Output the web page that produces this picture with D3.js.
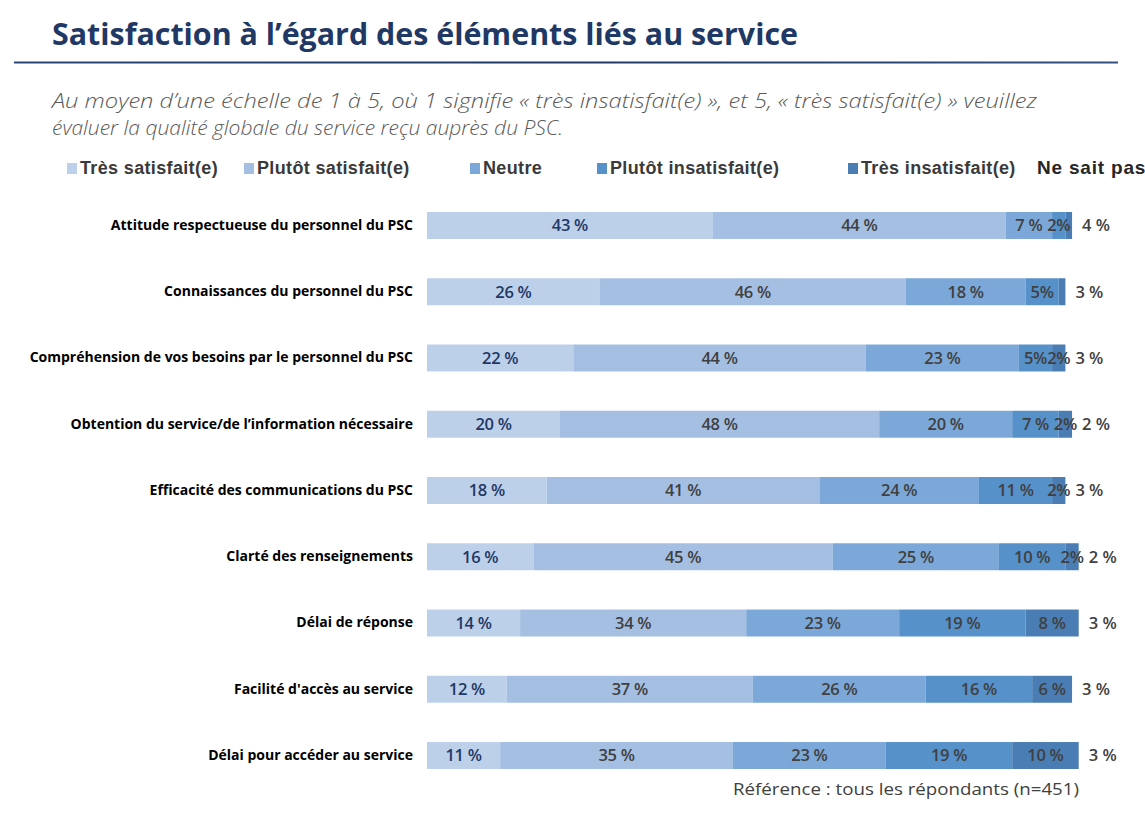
<!DOCTYPE html>
<html>
<head>
<meta charset="utf-8">
<script src="https://cdn.jsdelivr.net/npm/d3@7"></script>
<style>
  html, body { margin: 0; padding: 0; background: #ffffff; }
  svg { display: block; }
</style>
</head>
<body>
<svg id="chart" width="1145" height="826"></svg>
<script>
// ---------- DATA ----------
const categories = [
  "Attitude respectueuse du personnel du PSC",
  "Connaissances du personnel du PSC",
  "Compréhension de vos besoins par le personnel du PSC",
  "Obtention du service/de l\u2019information nécessaire",
  "Efficacité des communications du PSC",
  "Clarté des renseignements",
  "Délai de réponse",
  "Facilité d'accès au service",
  "Délai pour accéder au service"
];
const seriesNames = ["Très satisfait(e)", "Plutôt satisfait(e)", "Neutre", "Plutôt insatisfait(e)", "Très insatisfait(e)"];
const nspName = "Ne sait pas";

const tresSatisfait     = [43, 26, 22, 20, 18, 16, 14, 12, 11];
const plutotSatisfait   = [44, 46, 44, 48, 41, 45, 34, 37, 35];
const neutre            = [ 7, 18, 23, 20, 24, 25, 23, 26, 23];
const plutotInsatisfait = [ 2,  5,  5,  7, 11, 10, 19, 16, 19];
const tresInsatisfait   = [ 1,  1,  2,  2,  2,  2,  8,  6, 10];
const neSaitPas         = [ 4,  3,  3,  2,  3,  2,  3,  3,  3];

const title = "Satisfaction à l\u2019égard des éléments liés au service";
const subtitle1 = "Au moyen d\u2019une échelle de 1 à 5, où 1 signifie « très insatisfait(e) », et 5, « très satisfait(e) » veuillez";
const subtitle2 = "évaluer la qualité globale du service reçu auprès du PSC.";
const footnote = "Référence : tous les répondants (n=451)";

// ---------- STYLE / LAYOUT ----------
const colors = ["#bdd0ea", "#a4bfe2", "#7ba8d8", "#5691ca", "#4a7db3"];
const labelColors = ["#1f3864", "#404040", "#404040", "#404040", "#404040"];
const legendX = [67, 244, 470, 597, 848];
const nspLegendX = 1037;

const svg = d3.select("#chart");

// Title
svg.append("text")
  .attr("x", 52).attr("y", 45)
  .attr("font-family", "Open Sans, sans-serif")
  .attr("font-weight", 700)
  .attr("font-size", 31)
  .attr("fill", "#1f3864")
  .attr("textLength", 746)
  .attr("lengthAdjust", "spacingAndGlyphs")
  .text(title);

// Title rule
const defs = svg.append("defs");
const grad = defs.append("linearGradient").attr("id", "rule").attr("x1", "0%").attr("x2", "100%");
grad.append("stop").attr("offset", "0%").attr("stop-color", "#2a4677");
grad.append("stop").attr("offset", "50%").attr("stop-color", "#1f3864");
grad.append("stop").attr("offset", "100%").attr("stop-color", "#34507f");
svg.append("rect").attr("x", 14).attr("y", 61.5).attr("width", 1104).attr("height", 2)
  .attr("fill", "url(#rule)");

// Subtitle
[[subtitle1, 108, 985], [subtitle2, 135, 511]].forEach(([t, y, w]) => {
  svg.append("text")
    .attr("x", 52).attr("y", y)
    .attr("font-family", "Open Sans, sans-serif")
    .attr("font-style", "italic")
    .attr("font-weight", 300)
    .attr("font-size", 21)
    .attr("fill", "#595959")
    .attr("textLength", w)
    .attr("lengthAdjust", "spacingAndGlyphs")
    .text(t);
});

// Legend
const legend = svg.append("g").attr("class", "legend");
seriesNames.forEach((name, i) => {
  legend.append("rect")
    .attr("x", legendX[i]).attr("y", 163)
    .attr("width", 10).attr("height", 11)
    .attr("fill", colors[i]);
  legend.append("text")
    .attr("x", legendX[i] + 13).attr("y", 174)
    .attr("font-family", "Liberation Sans, Arial, sans-serif")
    .attr("font-weight", 700)
    .attr("font-size", 18)
    .attr("letter-spacing", 0.35)
    .attr("fill", "#3a3a3a")
    .text(name);
});
legend.append("text")
  .attr("x", nspLegendX).attr("y", 174)
  .attr("font-family", "Liberation Sans, Arial, sans-serif")
  .attr("font-weight", 700)
  .attr("font-size", 19)
  .attr("letter-spacing", 0.8)
  .attr("fill", "#262626")
  .text(nspName);

// Scales
const x = d3.scaleLinear().domain([0, 100]).range([427, 1092]);
const y = d3.scaleBand().domain(categories).range([212, 769]).paddingInner(0.593).paddingOuter(0);

const seriesArrays = [tresSatisfait, plutotSatisfait, neutre, plutotInsatisfait, tresInsatisfait];
const rows = categories.map((c, i) => {
  const o = { cat: c, nsp: neSaitPas[i] };
  seriesNames.forEach((s, j) => { o[s] = seriesArrays[j][i]; });
  return o;
});
const stacked = d3.stack().keys(seriesNames)(rows);

// Bars
const barG = svg.append("g");
stacked.forEach((layer, j) => {
  barG.selectAll(null).data(layer).enter().append("rect")
    .attr("x", d => x(d[0]))
    .attr("y", d => y(d.data.cat))
    .attr("width", d => x(d[1]) - x(d[0]))
    .attr("height", y.bandwidth())
    .attr("fill", colors[j]);
});

// Segment labels
function fmt(v) {
  if (v <= 1) return "";
  return v >= 6 ? v + " %" : v + "%";
}
stacked.forEach((layer, j) => {
  barG.selectAll(null).data(layer).enter().append("text")
    .attr("x", d => (x(d[0]) + x(d[1])) / 2)
    .attr("y", d => y(d.data.cat) + y.bandwidth() / 2)
    .attr("dy", "0.36em")
    .attr("text-anchor", "middle")
    .attr("font-family", "Open Sans, sans-serif")
    .attr("font-weight", 600)
    .attr("font-size", 16.5)
    .attr("letter-spacing", -0.3)
    .attr("fill", labelColors[j])
    .text(d => fmt(d[1] - d[0]));
});

// "Ne sait pas" labels after bar end
const lastLayer = stacked[stacked.length - 1];
barG.selectAll(null).data(lastLayer).enter().append("text")
  .attr("x", d => x(d[1]) + 10)
  .attr("y", d => y(d.data.cat) + y.bandwidth() / 2)
  .attr("dy", "0.36em")
  .attr("font-family", "Open Sans, sans-serif")
  .attr("font-weight", 600)
  .attr("font-size", 16.5)
  .attr("fill", "#404040")
  .text(d => d.data.nsp + " %");

// Category axis labels
const yAxis = d3.axisLeft(y).tickSize(0).tickPadding(14);
const axisG = svg.append("g").attr("transform", "translate(427,0)").call(yAxis);
axisG.select(".domain").remove();
axisG.selectAll("text")
  .attr("font-family", "Open Sans, sans-serif")
  .attr("font-weight", 700)
  .attr("font-size", 14)
  .attr("fill", "#000000");

// Footnote
svg.append("text")
  .attr("x", 1079).attr("y", 795)
  .attr("text-anchor", "end")
  .attr("font-family", "Open Sans, sans-serif")
  .attr("font-size", 17)
  .attr("fill", "#404040")
  .attr("textLength", 346)
  .attr("lengthAdjust", "spacingAndGlyphs")
  .text(footnote);
</script>
</body>
</html>
